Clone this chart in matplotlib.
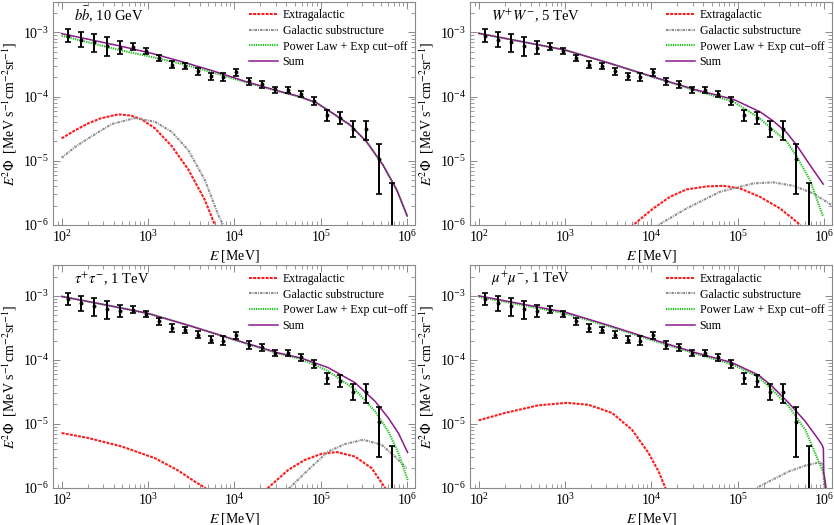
import numpy as np
import matplotlib
matplotlib.use("Agg")
import matplotlib.pyplot as plt
from matplotlib.ticker import LogLocator, NullFormatter

plt.rcParams['font.family'] = ['Liberation Serif', 'DejaVu Serif']
plt.rcParams['mathtext.fontset'] = 'stix'

# ---------------- data points (same in every panel) ----------------
data_E = [119, 168, 237, 335, 473, 667, 942, 1330, 1880, 2650, 3740, 5290, 7460,
          10500, 14900, 21000, 29700, 41900, 59100, 83500, 118000, 166000, 235000,
          332000, 468000, 661000]
data_y = [8.8e-4, 7.6e-4, 7.0e-4, 6.2e-4, 5.8e-4, 6.0e-4, 5.2e-4, 4.05e-4, 3.15e-4,
          2.96e-4, 2.47e-4, 2.07e-4, 2.0e-4, 2.42e-4, 1.72e-4, 1.56e-4, 1.29e-4,
          1.28e-4, 1.09e-4, 8.6e-5, 5.2e-5, 4.6e-5, 3.1e-5, 3.15e-5, 1.05e-5, 9.0e-7]
data_hi = [1.11e-3, 1.0e-3, 9.3e-4, 8.36e-4, 7.24e-4, 6.9e-4, 5.77e-4, 4.49e-4, 3.58e-4,
           3.29e-4, 2.79e-4, 2.36e-4, 2.33e-4, 2.69e-4, 1.95e-4, 1.75e-4, 1.43e-4,
           1.41e-4, 1.24e-4, 9.85e-5, 6.18e-5, 5.69e-5, 4.22e-5, 4.22e-5, 1.8e-5, 4.46e-6]
data_lo = [7.16e-4, 5.83e-4, 4.89e-4, 4.28e-4, 4.6e-4, 5.3e-4, 4.66e-4, 3.54e-4, 2.75e-4,
           2.65e-4, 2.17e-4, 1.81e-4, 1.73e-4, 2.09e-4, 1.5e-4, 1.38e-4, 1.15e-4,
           1.14e-4, 9.73e-5, 7.48e-5, 4.22e-5, 3.7e-5, 2.38e-5, 2.11e-5, 3.04e-6, 1e-8]

# ---------------- model curves: (log10 E [MeV], log10 E^2 Phi) ----------------
# Panel 1: b bbar, 10 GeV
p1_sum_logE = [2.0, 2.35, 2.7, 3.05, 3.4, 3.75, 4.14, 4.5, 4.76, 4.95, 5.14, 5.34, 5.53, 5.72, 5.88, 6.0]
p1_sum_logy = [-3.02, -3.12, -3.22, -3.33, -3.46, -3.60, -3.77, -3.91, -4.003, -4.097, -4.262,
               -4.444, -4.704, -5.067, -5.456, -5.861]
p1_pl_logE = [2.0, 2.35, 2.7, 3.05, 3.4, 3.75, 4.14, 4.5, 4.76, 4.95, 5.14, 5.34, 5.53, 5.72, 5.88, 6.0]
p1_pl_logy = [-3.053, -3.17, -3.285, -3.385, -3.495, -3.625, -3.78, -3.915, -4.005, -4.098, -4.263,
              -4.445, -4.705, -5.068, -5.457, -5.862]
p1_eg_logE = [2.0, 2.15, 2.308, 2.45, 2.655, 2.8, 2.926, 3.08, 3.273, 3.465, 3.658, 3.774, 3.85]
p1_eg_logy = [-4.651, -4.53, -4.417, -4.34, -4.277, -4.295, -4.355, -4.495, -4.771, -5.134,
              -5.612, -6.0, -6.3]
p1_gs_logE = [2.0, 2.15, 2.308, 2.579, 2.848, 3.08, 3.273, 3.465, 3.658, 3.813, 3.871, 3.92]
p1_gs_logy = [-4.953, -4.79, -4.651, -4.428, -4.335, -4.393, -4.548, -4.833, -5.3, -5.846, -6.0, -6.2]

# Panel 2: W+W-, 5 TeV
p2_sum_logE = [2.0, 2.5, 3.0, 3.5, 4.0, 4.5, 4.95, 5.256, 5.41, 5.565, 5.68, 5.835, 5.988]
p2_sum_logy = [-3.015, -3.145, -3.275, -3.475, -3.685, -3.89, -4.044, -4.237, -4.38, -4.56,
               -4.756, -5.067, -5.363]
p2_pl_logE = [2.0, 2.5, 3.0, 3.5, 4.0, 4.5, 4.95, 5.256, 5.41, 5.565, 5.68, 5.835, 5.988]
p2_pl_logy = [-3.015, -3.145, -3.275, -3.475, -3.69, -3.9, -4.081, -4.34, -4.522, -4.70,
              -4.93, -5.30, -5.872]
p2_eg_logE = [3.7, 3.789, 4.021, 4.214, 4.407, 4.639, 4.831, 5.024, 5.256, 5.487, 5.68, 5.757]
p2_eg_logy = [-6.12, -6.0, -5.742, -5.561, -5.446, -5.399, -5.39, -5.43, -5.561, -5.742, -5.95, -6.05]
p2_gs_logE = [4.0, 4.079, 4.407, 4.793, 5.178, 5.41, 5.641, 5.873, 6.086, 6.12]
p2_gs_logy = [-6.08, -6.0, -5.742, -5.483, -5.352, -5.336, -5.389, -5.508, -5.69, -5.72]

# Panel 3: tau+tau-, 1 TeV
p3_sum_logE = [2.0, 2.5, 3.0, 3.5, 4.0, 4.5, 4.777, 5.085, 5.395, 5.627, 5.781, 5.897, 6.005]
p3_sum_logy = [-3.01, -3.14, -3.275, -3.475, -3.685, -3.89, -3.975, -4.123, -4.358, -4.648,
               -4.909, -5.145, -5.45]
p3_pl_logE = [2.0, 2.5, 3.0, 3.5, 4.0, 4.5, 4.777, 5.085, 5.395, 5.627, 5.781, 5.897, 6.005]
p3_pl_logy = [-3.01, -3.14, -3.275, -3.475, -3.69, -3.9, -3.99, -4.176, -4.464, -4.805,
              -5.12, -5.459, -5.879]
p3_eg_logE = [2.0, 2.308, 2.694, 3.08, 3.35, 3.543, 3.659, 3.72, 4.0, 4.3, 4.391, 4.623, 4.816,
              5.009, 5.183, 5.395, 5.588, 5.742, 5.8]
p3_eg_logy = [-5.145, -5.223, -5.355, -5.538, -5.733, -5.906, -6.0, -6.1, -6.8, -6.12, -6.0,
              -5.722, -5.564, -5.47, -5.443, -5.513, -5.695, -6.0, -6.15]
p3_gs_logE = [4.55, 4.64, 4.853, 5.085, 5.279, 5.491, 5.704, 5.858, 5.993]
p3_gs_logy = [-6.15, -6.0, -5.722, -5.434, -5.318, -5.25, -5.329, -5.513, -5.695]

# Panel 4: mu+mu-, 1 TeV
p4_sum_logE = [2.0, 2.5, 3.0, 3.5, 4.0, 4.5, 4.932, 5.241, 5.395, 5.588, 5.78, 5.935, 5.973,
               5.99, 5.994, 6.03]
p4_sum_logy = [-3.0, -3.128, -3.255, -3.46, -3.675, -3.885, -4.044, -4.24, -4.412, -4.673,
               -4.962, -5.25, -5.33, -5.38, -5.76, -6.1]
p4_pl_logE = [2.0, 2.5, 3.0, 3.5, 4.0, 4.5, 4.932, 5.241, 5.395, 5.588, 5.78, 5.935, 5.993,
              6.02, 6.05]
p4_pl_logy = [-3.015, -3.145, -3.275, -3.475, -3.69, -3.9, -4.071, -4.27, -4.464, -4.726,
              -5.093, -5.591, -5.77, -6.0, -6.3]
p4_eg_logE = [2.0, 2.308, 2.694, 3.022, 3.273, 3.543, 3.774, 3.967, 4.083, 4.16, 4.2]
p4_eg_logy = [-4.947, -4.83, -4.711, -4.673, -4.704, -4.83, -5.093, -5.459, -5.748, -6.0, -6.15]
p4_gs_logE = [5.15, 5.221, 5.395, 5.588, 5.78, 5.935, 5.985, 6.01]
p4_gs_logy = [-6.1, -6.0, -5.879, -5.748, -5.654, -5.607, -5.63, -6.2]

panel_labels = [r"$b\bar{b}$, 10 GeV", r"$W^{+}W^{-}$, 5 TeV",
                r"$\tau^{+}\tau^{-}$, 1 TeV", r"$\mu^{+}\mu^{-}$, 1 TeV"]
legend_labels = ["Extragalactic", "Galactic substructure", "Power Law + Exp cut\u2212off", "Sum"]

panels = [
    (p1_eg_logE, p1_eg_logy, p1_gs_logE, p1_gs_logy, p1_pl_logE, p1_pl_logy, p1_sum_logE, p1_sum_logy),
    (p2_eg_logE, p2_eg_logy, p2_gs_logE, p2_gs_logy, p2_pl_logE, p2_pl_logy, p2_sum_logE, p2_sum_logy),
    (p3_eg_logE, p3_eg_logy, p3_gs_logE, p3_gs_logy, p3_pl_logE, p3_pl_logy, p3_sum_logE, p3_sum_logy),
    (p4_eg_logE, p4_eg_logy, p4_gs_logE, p4_gs_logy, p4_pl_logE, p4_pl_logy, p4_sum_logE, p4_sum_logy),
]

W, H = 834, 525
fig = plt.figure(figsize=(W / 100, H / 100), dpi=100)

ax_left = [53.3, 470.3]
ax_w = 361.7
rows = [(1.7, 225.0), (265.3, 487.7)]

frame_col = '#8a8a8a'
pos = []
for r in rows:
    for lft in ax_left:
        pos.append([lft / W, 1 - r[1] / H, ax_w / W, (r[1] - r[0]) / H])

def p10(v):
    return 10 ** np.asarray(v, dtype=float)

for k, (eE, ey, gE, gy, pE, py, sE, sy) in enumerate(panels):
    ax = fig.add_axes(pos[k])
    ax.set_xscale('log')
    ax.set_yscale('log')
    l1, = ax.plot(p10(eE), p10(ey), color='#ff1a1a', lw=1.5, ls=(0, (1.4, 0.6)))
    l2, = ax.plot(p10(gE), p10(gy), color='#8c8c8c', lw=1.5, ls=(0, (1.2, 0.5, 0.45, 0.5)))
    l3, = ax.plot(p10(pE), p10(py), color='#1ec01e', lw=1.5, ls=(0, (0.6, 0.5)))
    l4, = ax.plot(p10(sE), p10(sy), color='#8b1a8b', lw=1.1)
    yarr = np.array(data_y)
    yerr = [yarr - np.array(data_lo), np.array(data_hi) - yarr]
    ax.errorbar(data_E, data_y, yerr=yerr, fmt='o', ms=1.8, color='black',
                ecolor='black', elinewidth=1.4, capsize=2.2, capthick=1.2, zorder=5)
    ax.set_xlim(80, 1.23e6)
    ax.set_ylim(1e-6, 3e-3)
    for s in ax.spines.values():
        s.set_color(frame_col)
        s.set_linewidth(0.8)
    ax.tick_params(which='both', direction='in', top=True, right=True, color=frame_col,
                   labelsize=10, pad=3)
    ax.tick_params(which='major', length=5, width=0.7)
    ax.tick_params(which='minor', length=2.8, width=0.6)
    ax.xaxis.set_major_locator(LogLocator(base=10, numticks=10))
    ax.xaxis.set_minor_locator(LogLocator(base=10, subs=np.arange(2, 10), numticks=20))
    ax.xaxis.set_minor_formatter(NullFormatter())
    ax.yaxis.set_major_locator(LogLocator(base=10, numticks=10))
    ax.yaxis.set_minor_locator(LogLocator(base=10, subs=np.arange(2, 10), numticks=20))
    ax.yaxis.set_minor_formatter(NullFormatter())
    ax.set_xlabel(r"$E$ [MeV]", fontsize=10, labelpad=2)
    ax.set_ylabel(r"$E^{2}\Phi$  [MeV s$^{-1}$cm$^{-2}$sr$^{-1}$]", fontsize=10, labelpad=3)
    ax.text(0.057, 0.94, panel_labels[k], transform=ax.transAxes, fontsize=10.5,
            ha='left', va='center')
    ax.legend([l1, l2, l3, l4], legend_labels, loc='upper right', frameon=False,
              fontsize=8.6, handlelength=2.4, handletextpad=0.4, labelspacing=0.3,
              borderaxespad=0.45, borderpad=0.2)

fig.savefig('out.png', dpi=100)
